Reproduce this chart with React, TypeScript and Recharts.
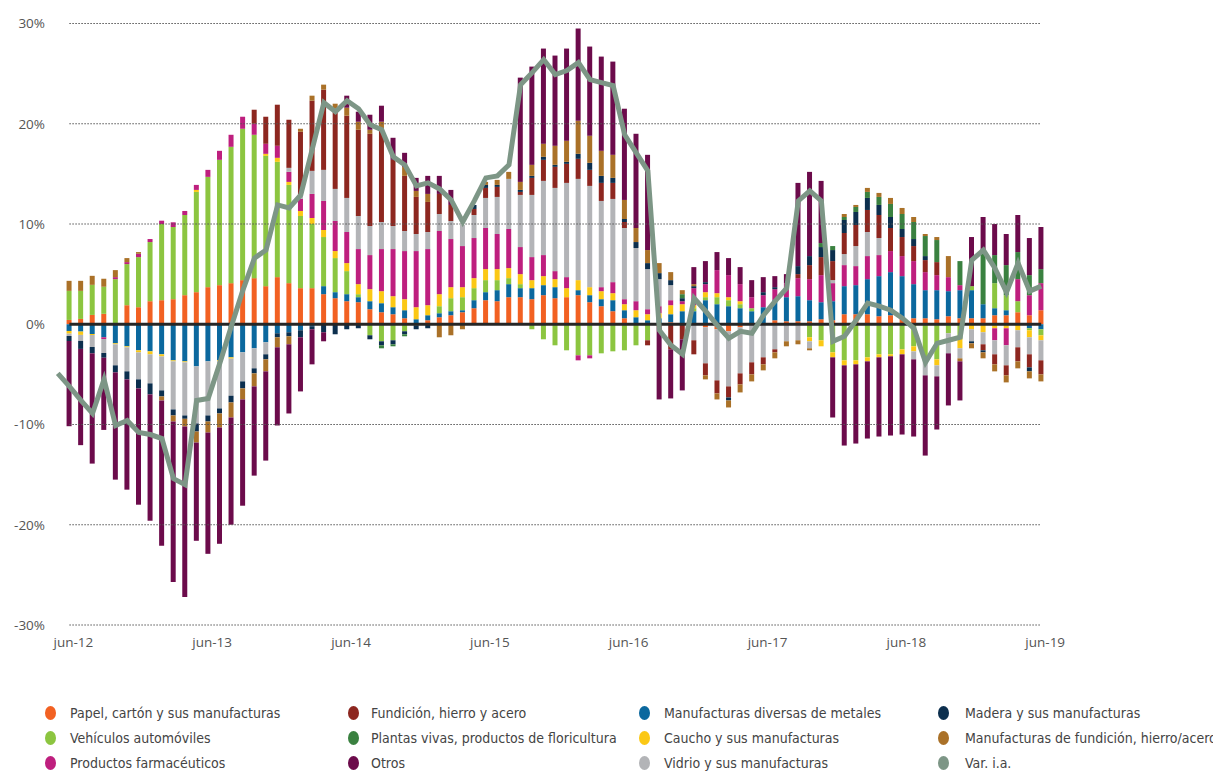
import React from 'react';
import { ComposedChart, Bar, Line, XAxis, YAxis, ReferenceLine } from 'recharts';

const MONTH_NAMES = ['ene', 'feb', 'mar', 'abr', 'may', 'jun', 'jul', 'ago', 'sep', 'oct', 'nov', 'dic'];
// may-12 .. jun-19 (86 months); bars start at jun-12
const CATEGORIES: string[] = [];
for (let k = 0; k < 86; k++) {
  const m = (4 + k) % 12;
  const y = 12 + Math.floor((4 + k) / 12);
  CATEGORIES.push(`${MONTH_NAMES[m]}-${y}`);
}
const TICK_LABELS = ['jun-12', 'jun-13', 'jun-14', 'jun-15', 'jun-16', 'jun-17', 'jun-18', 'jun-19'];
const Y_TICKS = [-30, -20, -10, 0, 10, 20, 30];

// Series values (percentage points), jun-12 .. jun-19
const PAPEL = [0.43, 0.53, 0.93, 1.04, 0, 1.9, 1.7, 2.3, 2.4, 2.5, 2.9, 3.2, 3.7, 3.9, 4.1, 4.4, 4.6, 3.8, 4.7, 4.1, 3.6, 3.6, 3.0, 2.6, 2.3, 2.2, 1.5, 1.2, 1.0, 0.6, 0, 0.4, 0.7, 0.9, 1.2, 1.6, 2.4, 2.3, 2.7, 2.7, 2.5, 2.9, 2.6, 2.7, 2.9, 2.2, 1.8, 1.3, 0.6, 0, 0, 0, 0.2, 0.1, 0, -0.3, -0.5, -0.7, -0.3, 0, 0, 0.4, 0.3, 0.3, 0.3, 0.5, 0.4, 1.0, 1.0, 1.0, 0.8, 0.9, 0.6, 0.6, 0.6, 0.5, 0.8, 0.6, 0.6, 0.6, 0.9, 0.9, 1.2, 0.9, 1.4];
const METALES = [-0.67, -0.73, -0.97, -1.3, -1.9, -2.2, -2.6, -2.7, -3.0, -3.6, -3.7, -4.2, -3.7, -3.6, -3.3, -2.8, -2.4, -1.8, -0.9, -0.8, -0.6, -0.2, 0.8, 0.6, 0.7, 0.5, 0.8, 0.9, 0.7, 0.8, 0.5, 0.5, 0.4, 0.4, 0.2, 0.8, 0.8, 1.1, 1.3, 0.9, 1.1, 1.0, 1.1, 0, 0.5, 0.7, 0.7, 1.1, 0.8, 0.7, 0.4, 0.6, 0.8, 1.2, 1.3, 2.4, 2.0, 1.8, 1.6, 1.3, 1.7, 2.0, 2.4, 2.5, 2.1, 1.7, 1.9, 2.8, 2.9, 3.5, 4.0, 4.3, 4.2, 3.4, 2.8, 2.9, 2.5, 2.8, 2.8, 1.4, 0.7, 0.5, 0, -0.4, -0.5];
const VEHICULOS = [2.9, 2.8, 3.0, 2.7, 4.5, 4.1, 5.0, 5.9, 7.6, 7.2, 8.0, 10.0, 11.0, 12.5, 13.6, 15.1, 14.3, 13.0, 11.5, 9.8, 7.2, 6.4, 4.9, 3.4, 2.3, 0.3, -1.1, -1.7, -1.6, -0.7, -0.1, 0, 0.7, 1.3, 1.3, 1.2, 1.2, 1.0, 0.6, 0.4, -0.5, -1.5, -2.1, -2.6, -3.1, -3.1, -2.9, -2.7, -2.6, -2.1, -1.6, 0, 0, 0, 0.3, 0.3, 0.7, 0.6, 0.4, 0.3, 0, 0, 0, 0, -1.3, -1.6, -2.8, -3.6, -3.6, -3.3, -3.0, -3.0, -2.5, -2.2, -3.6, -3.5, -0.9, -1.4, 0.4, 0, 2.5, 1.5, 1.1, -0.2, -0.6];
const CAUCHO = [-0.27, -0.33, -0.1, 0, -0.1, -0.1, -0.2, -0.3, -0.2, -0.1, -0.1, 0.2, 0, -0.1, -0.13, 0, 0, 0.2, 0.4, 0.3, 0.5, 0.6, 0.7, 0.7, 0.8, 1.0, 1.2, 1.2, 1.1, 1.1, 1.2, 1.0, 1.2, 1.1, 1.0, 1.0, 1.1, 1.1, 1.0, 1.0, 0.8, 0.9, 0.8, 0.9, 1.0, 0.8, 0.8, 0.7, 0.6, 0.7, 0.6, 0.5, 0.9, 0.7, 0.3, 0.5, 0.4, 0.3, 0.3, 0, 0, 0, 0, 0, -0.4, -0.6, -0.5, -0.5, -0.4, -0.4, -0.3, -0.2, -0.5, -0.5, 0, -0.6, 0, -1.0, -0.5, -0.8, -0.4, -0.4, -0.6, -0.7, -0.5];
const FARMA = [0, 0, 0, -0.17, 0.2, 0.2, 0.33, 0.3, 0.33, 0.47, 0.4, 0.5, 0.7, 0.9, 1.2, 1.2, 1.1, 1.0, 1.2, 1.0, 1.2, 2.4, 2.9, 3.0, 3.1, 3.5, 3.4, 4.2, 4.7, 4.8, 5.6, 5.6, 6.3, 4.8, 4.1, 4.0, 4.1, 3.5, 3.9, 2.7, 2.3, 2.1, 0.8, 1.1, -0.5, -0.3, 0.4, 1.1, 0.5, 0.9, 0.5, 0.7, 0.5, 0.3, 1.7, 0.8, 2.3, 2.2, 1.7, 1.1, 1.2, 1.1, 1.4, 1.8, 2.1, 2.7, 1.8, 2.1, 1.9, 2.3, 2.1, 2.1, 2.0, 2.3, 1.8, 1.5, 1.4, 0.5, 0, 0, -1.2, -1.7, 2.2, 2.0, 2.7];
const VIDRIO = [-0.23, -0.6, -1.2, -1.4, -2.1, -2.4, -2.7, -2.9, -3.4, -4.8, -5.3, -5.7, -5.4, -4.7, -3.7, -2.9, -2.0, -1.2, 0, 0.4, 0.3, 2.3, 3.1, 3.2, 3.4, 3.3, 2.9, 2.7, 2.3, 2.0, 1.7, 1.7, 1.7, 1.8, 2.1, 2.3, 3.0, 3.7, 5.0, 5.2, 6.2, 7.4, 8.3, 9.4, 10.1, 10.1, 8.6, 8.3, 7.1, 5.3, 4.0, 2.7, 1.5, 0, -1.6, -3.6, -5.1, -5.5, -4.6, -3.8, -3.3, -2.5, -1.7, -1.6, -0.7, 0, 0.3, 1.1, 2.0, 2.4, 1.7, 0, 0, -0.8, -1.5, -1.1, -2.0, -1.0, -1.2, -1.2, -1.4, -2.0, -1.7, -1.7, -2.0];
const FUNDICION = [0, 0, 0, 0, 0, 0, 0, 0, 0, 0, 0, 0, 0, 0, 0, 0, 1.4, 2.7, 4.1, 4.8, 6.4, 7.0, 8.0, 8.0, 8.2, 8.6, 9.2, 9.2, 6.6, 5.5, 3.7, 3.0, 2.0, 1.6, 0, 0.6, 1.0, 1.0, 0, 0.3, 1.7, 2.1, 2.1, 1.9, 2.0, 1.6, 1.8, 1.6, 0.6, 0, -0.5, -0.3, -2.5, -1.5, -1.4, -1.2, -1.3, -1.1, -1.1, -1.2, -0.7, -0.3, 0, 0.4, 1.4, 1.8, 1.9, 2.1, 2.1, 2.2, 2.3, 2.3, 1.9, 1.5, 1.2, 1.3, 0, 0, 0, -0.6, -1.0, -1.0, -1.4, -1.3, -1.4];
const MADERA = [-0.5, -0.8, -0.63, -0.47, -0.7, -0.8, -0.9, -1.1, -0.6, -0.6, -0.33, -0.8, -0.6, -0.5, -0.67, -0.7, -0.5, -0.5, -0.4, -0.4, -0.7, -0.3, -0.8, -1.0, -0.5, -0.4, -0.4, -0.4, -0.4, -0.3, -0.4, -0.4, 0, 0, 0, 0.4, 0.3, 0.2, 0, 0.2, 0.2, 0.3, 0.2, 0.2, 0.5, 0.7, 0.7, 0.5, 0.3, 0.6, 0.6, 0.6, 0.5, 0.3, 0.2, 0.2, 0, -0.3, 0, 0, 0.3, 0.2, 0, 0.8, 0.9, 1.0, 1.1, 1.3, 1.3, 1.2, 1.0, 1.1, 0.8, 0.7, 0.4, 0, 0, 0, -0.2, -0.2, 0, 0, 0, -0.4, 0];
const PLANTAS = [0, 0, 0, 0, 0, 0, 0, 0, 0, 0, 0, 0, 0, 0, 0, 0, 0, 0, 0, 0, 0, 0, 0, 0, 0, 0, 0, -0.3, -0.2, -0.2, 0, 0, 0, 0, 0, 0, 0, 0, 0, 0, 0, 0, 0, 0, 0, 0, 0, 0, 0, 0, 0, 0, 0, 0.4, 0, 0, 0, 0, 0, 0, 0, 0, 0, 0, 0, 0.4, 0.4, 0.3, 0.5, 0.6, 0.8, 1.3, 1.5, 1.7, 2.0, 2.2, 0, 2.4, 0, 5.4, 2.8, 3.0, 2.7, 2.0, 1.4];
const MANUF_FUND = [1.0, 1.0, 0.9, 0.8, 0.7, 0.4, 0.17, 0, -0.4, -0.6, -0.77, -1.1, -1.1, -1.4, -1.5, -1.1, -1.3, -1.2, -1.0, -0.8, 0.3, 0.5, 0.5, 0.5, 0.8, 0.8, 0.4, 0.8, 0, 0.9, 0.6, 0.8, -1.3, -1.1, -0.5, 0, 0.3, 0.5, 0.7, 0.8, 1.1, 1.3, 1.9, 2.1, 3.3, 2.7, 2.5, 2.3, 1.9, 1.4, 1.3, 1.0, 0.8, 0.4, 0.2, -0.4, -0.6, -0.7, -0.8, -0.7, -0.6, -0.6, -0.5, -0.4, -0.2, 0, 0, 0.3, 0.2, 0.4, 0.4, 0.6, 0.6, 0.5, 0.2, 0.3, 2.1, -0.3, -0.5, -0.6, -0.7, -0.7, -0.7, -0.7, -0.7];
const OTROS = [-8.5, -9.6, -11.0, -7.2, -10.7, -11.0, -11.6, -12.6, -14.5, -16.0, -17.0, -9.8, -12.1, -11.6, -10.7, -10.6, -8.9, -8.9, -7.8, -6.9, -5.4, -3.5, -0.9, 0, 1.2, 1.0, 1.5, 1.6, 2.2, 1.4, 1.3, 1.8, 1.8, 1.5, 0, 0, 0, 0, 0, 10.4, 9.8, 9.5, 9.0, 9.2, 9.2, 8.9, 9.4, 9.3, 9.1, 9.4, 9.5, -7.2, -4.9, -5.1, 1.7, 2.1, 1.8, 1.7, 1.7, 1.7, 1.5, 1.1, 0.9, 8.3, 8.4, 6.2, -6.0, -8.0, -7.9, -7.7, -7.9, -7.9, -8.0, -7.7, -8.0, -5.3, -5.2, -3.9, 4.9, 3.3, 3.1, 3.1, 3.7, 3.7, 4.2];
// Var. i.a., may-12 .. jun-19
const VAR_IA = [-4.9, -6.2, -7.6, -8.9, -5.5, -10.1, -9.6, -10.8, -11.0, -11.4, -15.4, -16.0, -7.6, -7.4, -3.9, -0.2, 3.4, 6.6, 7.4, 11.9, 11.6, 12.9, 17.5, 22.1, 21.2, 22.3, 21.5, 19.9, 19.4, 16.7, 15.9, 13.8, 14.1, 13.5, 12.4, 10.2, 12.3, 14.6, 14.8, 15.9, 23.9, 25.1, 26.4, 24.9, 25.3, 26.1, 24.4, 24.1, 23.8, 18.9, 17.1, 15.3, -0.6, -2.1, -3.0, 2.6, 1.3, -0.1, -1.4, -0.7, -0.9, 0.9, 2.3, 3.6, 12.3, 13.3, 12.3, -1.7, -1.2, 0.4, 2.1, 1.8, 1.4, 0.6, -0.4, -3.8, -1.9, -1.6, -1.3, 6.4, 7.4, 5.6, 3.2, 6.1, 3.3, 3.8];

const SERIES = [
  { key: 'papel', name: 'Papel, cartón y sus manufacturas', color: '#F26122', values: PAPEL },
  { key: 'metales', name: 'Manufacturas diversas de metales', color: '#0B689E', values: METALES },
  { key: 'vehiculos', name: 'Vehículos automóviles', color: '#8CC540', values: VEHICULOS },
  { key: 'caucho', name: 'Caucho y sus manufacturas', color: '#FBC815', values: CAUCHO },
  { key: 'farma', name: 'Productos farmacéuticos', color: '#BE1F7E', values: FARMA },
  { key: 'vidrio', name: 'Vidrio y sus manufacturas', color: '#B3B4B7', values: VIDRIO },
  { key: 'fundicion', name: 'Fundición, hierro y acero', color: '#8D2720', values: FUNDICION },
  { key: 'madera', name: 'Madera y sus manufacturas', color: '#0C2F4E', values: MADERA },
  { key: 'plantas', name: 'Plantas vivas, productos de floricultura', color: '#3A8140', values: PLANTAS },
  { key: 'manuf', name: 'Manufacturas de fundición, hierro/acero', color: '#AA7128', values: MANUF_FUND },
  { key: 'otros', name: 'Otros', color: '#6C0B4B', values: OTROS },
];
const LINE_COLOR = '#7D9686';

const DATA = CATEGORIES.map((month, k) => {
  const row: Record<string, any> = { month, varia: VAR_IA[k] };
  SERIES.forEach((s) => {
    row[s.key] = k === 0 ? null : s.values[k - 1];
  });
  return row;
});

const LEGEND = [
  [{ n: 'Papel, cartón y sus manufacturas', c: '#F26122' }, { n: 'Fundición, hierro y acero', c: '#8D2720' }, { n: 'Manufacturas diversas de metales', c: '#0B689E' }, { n: 'Madera y sus manufacturas', c: '#0C2F4E' }],
  [{ n: 'Vehículos automóviles', c: '#8CC540' }, { n: 'Plantas vivas, productos de floricultura', c: '#3A8140' }, { n: 'Caucho y sus manufacturas', c: '#FBC815' }, { n: 'Manufacturas de fundición, hierro/acero', c: '#AA7128' }],
  [{ n: 'Productos farmacéuticos', c: '#BE1F7E' }, { n: 'Otros', c: '#6C0B4B' }, { n: 'Vidrio y sus manufacturas', c: '#B3B4B7' }, { n: 'Var. i.a.', c: LINE_COLOR }],
];
// container coordinates (page minus 8px body margin)
const DOT_X = [42, 345, 636, 935];
const TEXT_X = [62, 363, 656, 957];
const ROW_Y = [705, 730, 755];

const XTick = (props: any) => {
  const { x, y, payload } = props;
  return (
    <text x={x + 4} y={y + 22} textAnchor="middle" fontSize={13.5} fill="#555" fontFamily="'Open Sans', sans-serif">
      {payload.value}
    </text>
  );
};

export default function App() {
  return (
    <div style={{ position: 'relative', width: 1213, height: 765 }}>
      <ComposedChart
        width={1100}
        height={662}
        data={DATA}
        stackOffset="sign"
        margin={{ top: 15.5, right: 61, bottom: 0, left: 0 }}
      >
        <XAxis
          dataKey="month"
          ticks={TICK_LABELS}
          interval={0}
          axisLine={false}
          tickLine={false}
          tickSize={0}
          tickMargin={0}
          height={45}
          tick={<XTick />}
        />
        <YAxis
          type="number"
          domain={[-30, 30]}
          ticks={Y_TICKS}
          width={44}
          axisLine={false}
          tickLine={false}
          tickSize={0}
          tickMargin={7}
          tickFormatter={(v: number) => `${v}%`}
          tick={{ fontSize: 13.5, fill: '#555', fontFamily: "'Open Sans', sans-serif" }}
        />
        {[30, 20, 10, -10, -20, -30].map((y) => (
          <ReferenceLine
            key={y}
            segment={[{ x: 'jun-12', y }, { x: 'jun-19', y }]}
            stroke="#555"
            strokeWidth={1}
            strokeDasharray="1.5 1.5"
            ifOverflow="visible"
          />
        ))}
        {SERIES.map((s) => (
          <Bar key={s.key} dataKey={s.key} stackId="a" fill={s.color} barSize={5} isAnimationActive={false} />
        ))}
        <ReferenceLine
          segment={[{ x: 'jun-12', y: 0 }, { x: 'jun-19', y: 0 }]}
          stroke="#262626"
          strokeWidth={3}
          ifOverflow="visible"
        />
        <Line
          type="linear"
          dataKey="varia"
          stroke={LINE_COLOR}
          strokeWidth={5}
          dot={false}
          activeDot={false}
          isAnimationActive={false}
        />
      </ComposedChart>
      {LEGEND.map((row, r) =>
        row.map((item, c) => (
          <React.Fragment key={`${r}-${c}`}>
            <span
              style={{
                position: 'absolute',
                left: DOT_X[c] - 5.5,
                top: ROW_Y[r] - 7,
                width: 11,
                height: 14,
                borderRadius: '50%',
                background: item.c,
              }}
            />
            <span
              style={{
                position: 'absolute',
                left: TEXT_X[c],
                top: ROW_Y[r] - 9,
                height: 18,
                lineHeight: '18px',
                whiteSpace: 'nowrap',
                fontFamily: "'DejaVu Sans Condensed', 'Liberation Sans Narrow', sans-serif",
                fontSize: 14,
                color: '#444',
              }}
            >
              {item.n}
            </span>
          </React.Fragment>
        ))
      )}
    </div>
  );
}
